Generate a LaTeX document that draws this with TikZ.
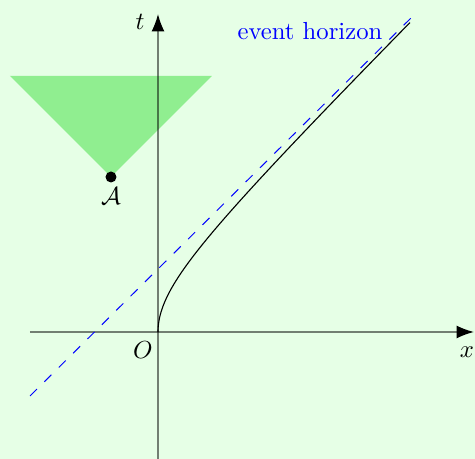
\documentclass[tikz,border=0pt]{standalone}
\usetikzlibrary{arrows.meta}
\definecolor{bggreen}{RGB}{230,255,230}
\definecolor{conegreen}{RGB}{144,238,144}
\tikzset{
  axisline/.style={draw=black, draw opacity=0.5, line width=0.6pt},
  axistip/.style={-{Latex[length=7pt,width=5.2pt]}, black, line width=0.6pt},
  horizonline/.style={blue, dash pattern=on 4pt off 4.2pt, line width=0.4pt},
  worldline/.style={black, line width=0.45pt},
  lab/.style={inner sep=0pt, font=\normalsize},
}
\begin{document}
\begin{tikzpicture}[x=0.405pt, y=0.405pt]
  \fill[bggreen] (-158,-127) rectangle (317,332);
  \useasboundingbox (-158,-127) rectangle (317,332);
  % light cone of A
  \coordinate (A) at (-47,155);
  \coordinate (cl) at (-148,256);
  \coordinate (cr) at (54,256);
  \fill[conegreen] (A) -- (cl) -- (cr) -- cycle;
  % axes
  \coordinate (O) at (0,0);
  \coordinate (xl) at (-128,0);
  \coordinate (xr) at (316,0);
  \coordinate (xr0) at (300,0);
  \coordinate (tb) at (0,-127);
  \coordinate (tt) at (0,318);
  \coordinate (tt0) at (0,302);
  \draw[axisline] (xl) -- (xr0);
  \draw[axisline] (tb) -- (tt0);
  \draw[axistip] (xr0) -- (xr);
  \draw[axistip] (tt0) -- (tt);
  % event horizon
  \coordinate (h1) at (-128,-64);
  \coordinate (h2) at (254,315);
  \draw[horizonline] (h1) -- (h2);
  % hyperbolic world line
  \draw[worldline] plot[domain=0:2.28, samples=80, smooth, variable=\u]
    ({64*(cosh(\u)-1)}, {64*sinh(\u)});
  % point A
  \fill[black] (A) circle (5.5);
  % labels
  \node[lab] (tlab) at (-18,310) {$t$};
  \node[lab] (xlab) at (309,-20) {$x$};
  \node[lab] (Olab) at (-15,-18) {$O$};
  \node[lab] (Alab) at (-47,136) {$\mathcal{A}$};
  \node[lab, text=blue] (hlab) at (152,301) {event horizon};
\end{tikzpicture}
\end{document}
